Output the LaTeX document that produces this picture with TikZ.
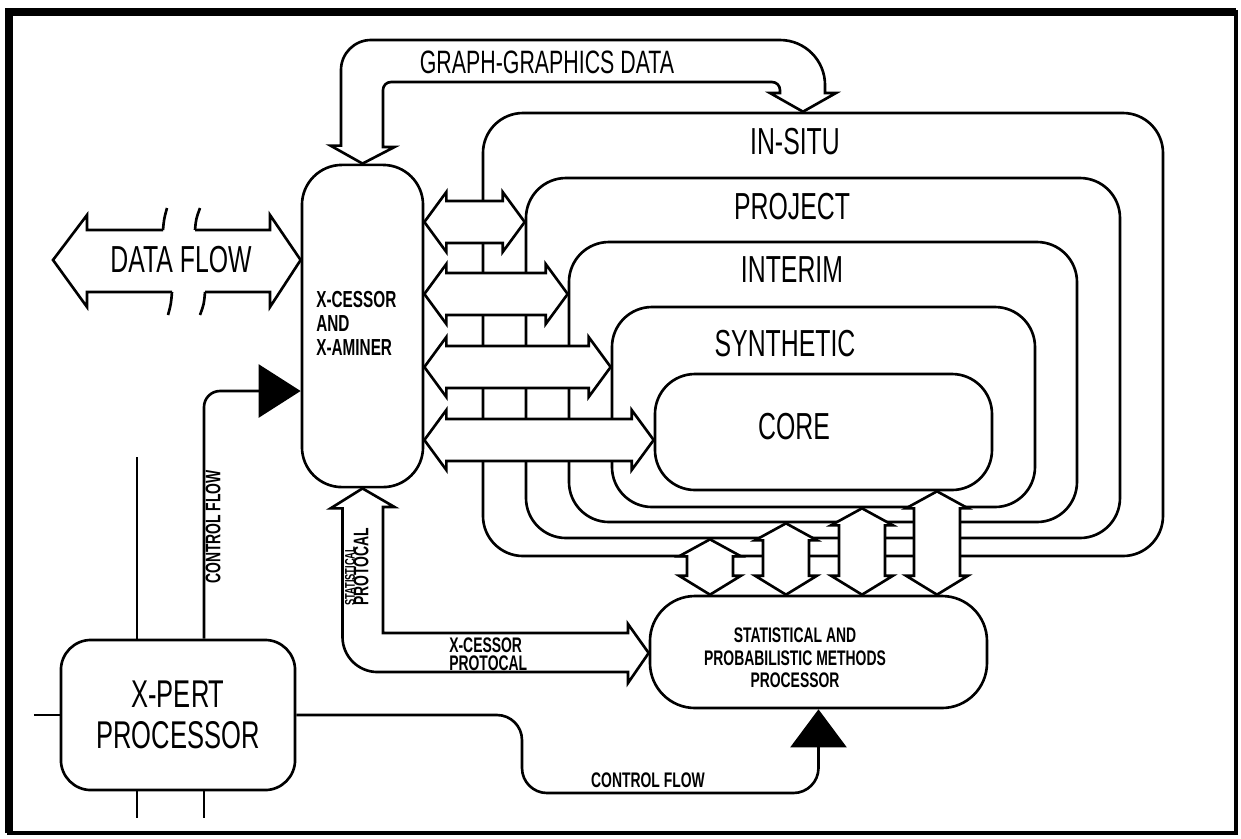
\documentclass[tikz,border=0pt]{standalone}
\usepackage{fontspec}
\usetikzlibrary{calc,fit,arrows.meta}
\newfontfamily\cad[FakeStretch=0.66]{Liberation Sans}

% fat double arrows: left tip, right tip / top tip, bottom tip
\newcommand{\hfat}[2]{\draw[fatarrow] (#1) -- ++(22,-30) -- ++(0,9) -- ($(#2)+(-22,-21)$) -- ++(0,-9) -- (#2) -- ++(-22,30) -- ++(0,-9) -- ($(#1)+(22,21)$) -- ++(0,9) -- cycle;}
\newcommand{\vfat}[2]{\draw[fatarrow] (#1) -- ++(31,17) -- ++(-8,0) -- ($(#2)+(23,-19)$) -- ++(8,0) -- (#2) -- ++(-31,-19) -- ++(8,0) -- ($(#1)+(-23,17)$) -- ++(-8,0) -- cycle;}

\begin{document}
\begin{tikzpicture}[x=0.01cm,y=-0.01cm,line width=0.75pt,
	box/.style={draw,rounded corners=4mm,inner sep=0pt},
	fatarrow/.style={draw,fill=white},
	bigtext/.style={font=\cad\fontsize{10.7}{12}\selectfont},
	smalltext/.style={font=\cad\bfseries\fontsize{6}{6.8}\selectfont,align=center},
	ctrlflow/.style={rounded corners=2.5mm,-{Triangle[length=3.8mm,width=5.6mm]}}]
	\useasboundingbox (0,0) rectangle (1241,838);
	\draw[line width=1.2pt] (9,12) rectangle (1236,833);
	\draw[line width=2pt] (9,833) -- (9,12) -- (1236,12);

	%LAYERS
	\node[box,fit={(483,113) (1163,556)}] (insitu) {};
	\node[box,fit={(526,178) (1120,538)}] (project) {};
	\node[box,fit={(569,242) (1077,522)}] (interim) {};
	\node[box,fit={(612,307) (1035,507)}] (synthetic) {};
	\node[box,fit={(655,374) (992,490)}] (core) {};
	\node[bigtext] (insitulbl) at (795,142) {IN-SITU};
	\node[bigtext] (projectlbl) at (792,207) {PROJECT};
	\node[bigtext] (interimlbl) at (792,270) {INTERIM};
	\node[bigtext] (syntheticlbl) at (785,344) {SYNTHETIC};
	\node[bigtext] (corelbl) at (794,427) {CORE};

	%PROCESSORS
	\node[box,minimum width=1.21cm,minimum height=3.22cm] (xcessor) at (362.5,326) {};
	\node[smalltext,font=\cad\bfseries\fontsize{6.6}{6.8}\selectfont,align=left,anchor=west,inner sep=0pt] (xcessorlbl) at (315,323.5) {X-CESSOR\\AND\\X-AMINER};
	\node[box,rounded corners=4.5mm,fit={(650,596) (987,708)}] (stat) {};
	\node[smalltext,font=\cad\bfseries\fontsize{6}{6.4}\selectfont] (statlbl) at (795,658) {STATISTICAL AND\\PROBABILISTIC METHODS\\PROCESSOR};
	\node[box,rounded corners=3mm,minimum width=2.34cm,minimum height=1.5cm,align=center,
		font=\cad\fontsize{11}{11.7}\selectfont] (xpert) at (178,715) {X-PERT\\PROCESSOR};

	%DATA FLOW
	\coordinate (dfend) at (53,260);
	\coordinate (df) at (0,260);
	\draw (163,230) -- (87,230) -- (87,215) -- (dfend) -- (87,307) -- (87,292) -- (172,292);
	\draw (195,230) -- (270,230) -- (270,215) -- (xcessor.west |- df) -- (270,307) -- (270,292) -- (205,292);
	\draw (163,230) .. controls (164,219) .. (167,208);
	\draw (172,292) .. controls (171,304) .. (168,315);
	\draw (195,230) .. controls (196,219) .. (200,208);
	\draw (205,292) .. controls (204,304) .. (200,315);
	\node[bigtext] (dflbl) at (181,260) {DATA FLOW};

	%GRAPH-GRAPHICS DATA
	\coordinate (gg) at (803,0);
	\draw (xcessor.north) -- ++(-32,-18) -- ++(10.5,0) -- (341,70) arc[start angle=180,end angle=90,radius=3mm]
		-- (780,40) arc[start angle=90,end angle=0,radius=4.5mm] -- (825,93) -- (836,93) -- (insitu.north -| gg)
		-- (770,93) -- (780,93) -- (780,90) arc[start angle=0,end angle=90,radius=0.8mm]
		-- (391,82) arc[start angle=90,end angle=180,radius=0.8mm] -- (383,147) -- (394.5,147) -- cycle;
	\node[font=\cad\fontsize{9.2}{10}\selectfont] (gglbl) at (547,62) {GRAPH-GRAPHICS DATA};

	%PROTOCALS
	\coordinate (sp) at (0,653);
	\draw (xcessor.south) -- ++(-32,20) -- ++(12,0) -- (342.5,637) arc[start angle=180,end angle=270,radius=3.5mm]
		-- (628,672) -- (628,683) -- (stat.west |- sp) -- (628,624) -- (628,633) -- (383,633) -- (383,507) -- (394.5,507) -- cycle;
	\node[smalltext,rotate=90,anchor=south west,align=left,inner sep=0pt] (statproto) at (370,607) {{\fontsize{4}{4}\selectfont STATISTICAL}\\[-2.9pt]PROTOCAL};
	\node[smalltext,align=left,anchor=west,inner sep=0pt] (xproto) at (448,654.5) {X-CESSOR\\[-1.7pt]PROTOCAL};

	%HORIZONTAL DOUBLE ARROWS
	\coordinate (r1) at (0,222);
	\coordinate (r2) at (0,294);
	\coordinate (r3) at (0,367);
	\coordinate (r4) at (0,440);
	\hfat{xcessor.east |- r1}{project.west |- r1}
	\hfat{xcessor.east |- r2}{interim.west |- r2}
	\hfat{xcessor.east |- r3}{synthetic.west |- r3}
	\hfat{xcessor.east |- r4}{core.west |- r4}

	%VERTICAL DOUBLE ARROWS
	\coordinate (c1) at (710,0);
	\coordinate (c2) at (786,0);
	\coordinate (c3) at (862,0);
	\coordinate (c4) at (937,0);
	\vfat{project.south -| c1}{stat.north -| c1}
	\vfat{interim.south -| c2}{stat.north -| c2}
	\vfat{synthetic.south -| c3}{stat.north -| c3}
	\vfat{core.south -| c4}{stat.north -| c4}

	%CONTROL FLOW
	\coordinate (cfx) at (204,0);
	\coordinate (cfy) at (0,391);
	\draw[ctrlflow,rounded corners=1.6mm,-{Triangle[length=4.2mm,width=5.3mm]}] (xpert.north -| cfx) -- (204,391) -- (xcessor.west |- cfy);
	\node[smalltext,rotate=90] (cflbl) at (213,527) {CONTROL FLOW};
	\draw[ctrlflow] (xpert.east) -- (522,715) -- (522,793) -- (818.5,793) -- (stat.south);
	\node[smalltext] (cflbl2) at (648,780) {CONTROL FLOW};

	%LOOSE ENDS
	\coordinate (xin) at (137,457);
	\coordinate (xout1) at (137,818);
	\coordinate (xout2) at (204,818);
	\coordinate (xleft) at (34,715);
	\draw (xin) -- (xpert.north -| xin);
	\draw (xpert.south -| xout1) -- (xout1);
	\draw (xpert.south -| xout2) -- (xout2);
	\draw (xleft) -- (xpert.west);
\end{tikzpicture}
\end{document}
